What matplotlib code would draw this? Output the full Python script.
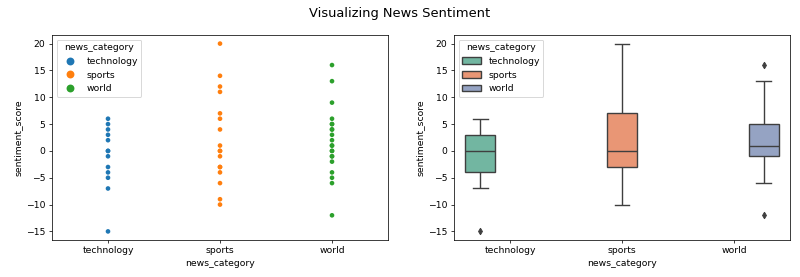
import numpy as np
import pandas as pd
import matplotlib
matplotlib.use("Agg")
import matplotlib.pyplot as plt
import seaborn as sns

categories = ["technology", "sports", "world"]
tech_scores = [6, 5, 4, 3, 2, 0, 0, -1, -3, -4, -5, -7, -15]
sports_scores = [20, 14, 12, 11, 7, 6, 4, 1, 0, 0, -1, -3, -3, -4, -6, -9, -10]
world_scores = [16, 13, 9, 6, 5, 5, 4, 4, 3, 2, 1, 1, 0, 0, -1, -1, -2, -4, -5, -6, -12]

df = pd.DataFrame({
    "news_category": ["technology"] * len(tech_scores)
                     + ["sports"] * len(sports_scores)
                     + ["world"] * len(world_scores),
    "sentiment_score": tech_scores + sports_scores + world_scores,
})

fig = plt.figure(figsize=(12, 4.155), dpi=800 / 12)
ax1 = fig.add_axes([0.065, 0.1336, 0.42, 0.74])
ax2 = fig.add_axes([0.5675, 0.1336, 0.42, 0.74])

sns.stripplot(data=df, x="news_category", y="sentiment_score",
              hue="news_category", order=categories, hue_order=categories,
              jitter=False, size=5, ax=ax1, legend=True)
ax1.legend(title="news_category", loc="upper left", markerscale=1.7)

sns.boxplot(data=df, x="news_category", y="sentiment_score",
            hue="news_category", order=categories, hue_order=categories,
            palette="Set2", dodge=True, width=0.8, gap=0, saturation=0.75,
            linecolor="#3f3f3f", linewidth=1.5,
            flierprops=dict(marker="d", markerfacecolor="#3f3f3f",
                            markeredgecolor="#3f3f3f", markersize=5),
            ax=ax2, legend=True)
ax2.legend(title="news_category", loc="upper left")

for ax in (ax1, ax2):
    ax.set_ylim(-16.6, 21.6)
    ax.set_yticks(np.arange(-15, 21, 5))

fig.suptitle("Visualizing News Sentiment", y=0.975, fontsize=14)
fig.savefig("out.png", dpi=800 / 12)
